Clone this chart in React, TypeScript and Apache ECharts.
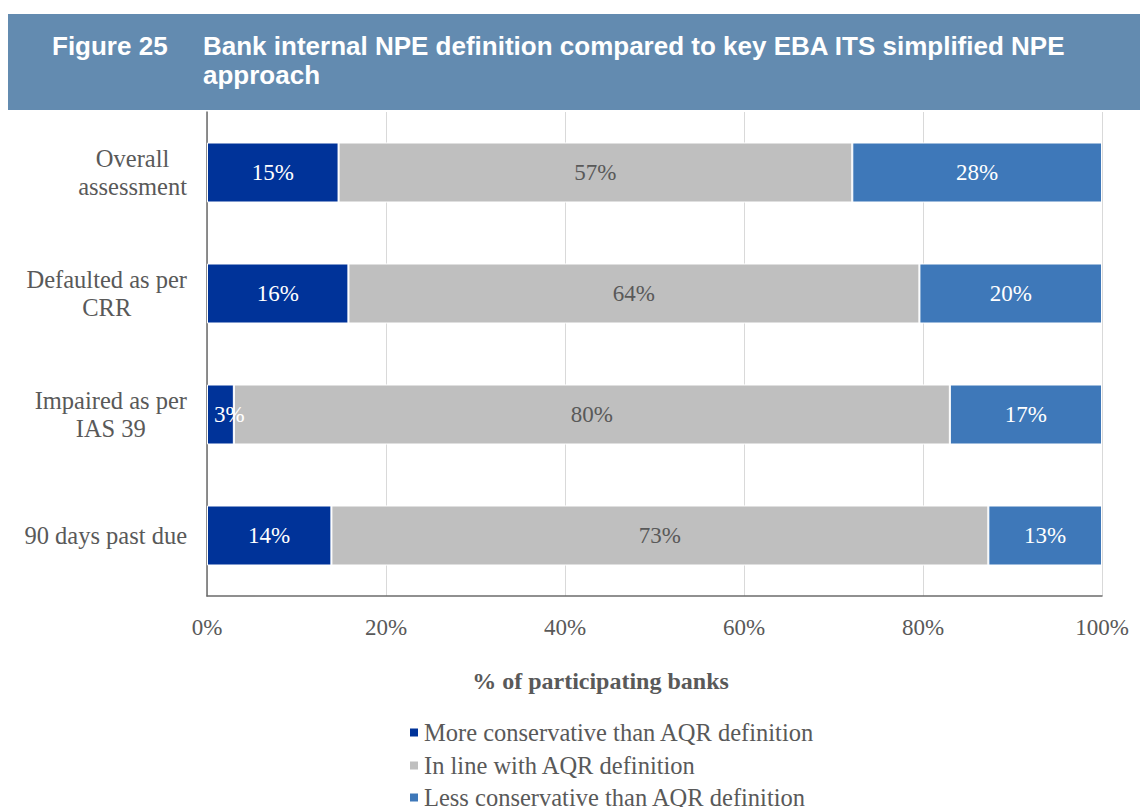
import React, { useEffect, useRef } from "react";
import * as echarts from "echarts";

const categories = ["Overall\nassessment", "Defaulted as per\nCRR", "Impaired as per\nIAS 39", "90 days past due"];
const seriesNames = ["More conservative than AQR definition", "In line with AQR definition", "Less conservative than AQR definition"];
const moreConservative = [14.7, 15.8, 3.0, 13.9];
const inLine = [57.4, 63.8, 80.0, 73.4];
const lessConservative = [27.9, 20.4, 17.0, 12.7];
const seriesColors = ["#003399", "#BFBFBF", "#3E78B9"];
const labelColors = ["#FFFFFF", "#595959", "#FFFFFF"];
const legendCenters = [732, 765, 797];
const titleNumber = "Figure 25";
const titleText = "Bank internal NPE definition compared to key EBA ITS simplified NPE\napproach";
const axisTitle = "% of participating banks";

const SERIF = "'Liberation Serif', 'Times New Roman', serif";
const SANS = "'Liberation Sans', Arial, sans-serif";

export default function App() {
  const ref = useRef<HTMLDivElement>(null);
  useEffect(() => {
    if (!ref.current) return;
    const chart = echarts.init(ref.current, undefined, { renderer: "svg" });
    const values = [moreConservative, inLine, lessConservative];
    chart.setOption({
      animation: false,
      backgroundColor: "#FFFFFF",
      textStyle: { fontFamily: SERIF },
      graphic: [
        { type: "rect", shape: { x: 8, y: 14, width: 1132, height: 96 }, style: { fill: "#638BB0" }, z: 0 },
        {
          type: "text", x: 52, y: 31.5, z: 10,
          style: { text: titleNumber, fill: "#FFFFFF", font: `bold 26px ${SANS}`, lineHeight: 29, verticalAlign: "top" },
        },
        {
          type: "text", x: 203, y: 31.5, z: 10,
          style: { text: titleText, fill: "#FFFFFF", font: `bold 26px ${SANS}`, lineHeight: 29, verticalAlign: "top" },
        },
      ],
      legend: seriesNames.map((name, i) => ({
        orient: "vertical",
        left: 408,
        top: legendCenters[i] - 12,
        padding: 0,
        itemWidth: 10,
        itemHeight: 10,
        icon: "rect",
        data: [name],
        textStyle: { fontFamily: SERIF, fontSize: 24.5, color: "#595959", lineHeight: 24 },
      })),
      grid: { left: 207, right: 38, top: 112, bottom: 211, containLabel: false },
      xAxis: {
        type: "value",
        min: 0,
        max: 100,
        interval: 20,
        axisLine: { show: true, lineStyle: { color: "#6b6b6b", width: 1.5 } },
        axisTick: { show: false },
        splitLine: { show: true, lineStyle: { color: "#D9D9D9", width: 1 } },
        axisLabel: { formatter: "{value}%", fontSize: 23, color: "#595959", margin: 20, fontFamily: SERIF },
        name: axisTitle,
        nameLocation: "middle",
        nameGap: 73,
        nameTextStyle: { fontFamily: SERIF, fontSize: 24, fontWeight: "bold", color: "#595959", padding: [0, 108, 0, 0] },
      },
      yAxis: {
        type: "category",
        data: categories,
        inverse: true,
        axisLine: { show: true, lineStyle: { color: "#6b6b6b", width: 1.5 } },
        axisTick: { show: false },
        axisLabel: {
          margin: 20,
          align: "right",
          formatter: (v: string) => v.split("\n").map((l) => `{c|${l}}`).join("\n"),
          rich: { c: { align: "center", fontSize: 24.5, lineHeight: 28, color: "#595959", fontFamily: SERIF } },
        },
      },
      series: seriesNames.map((name, i) => ({
        name,
        type: "bar",
        stack: "total",
        barWidth: 60,
        data: values[i].map((v, j) =>
          i === 0 && j === 2 ? { value: v, label: { offset: [9, 0] } } : v
        ),
        itemStyle: { color: seriesColors[i], borderColor: "#FFFFFF", borderWidth: 1 },
        label: {
          show: true,
          position: "inside",
          formatter: (p: any) => `${Math.round(p.value)}%`,
          color: labelColors[i],
          fontSize: 23,
          fontFamily: SERIF,
        },
      })),
    });
    return () => chart.dispose();
  }, []);
  return <div ref={ref} style={{ position: "fixed", left: 0, top: 0, width: 1140, height: 807 }} />;
}
